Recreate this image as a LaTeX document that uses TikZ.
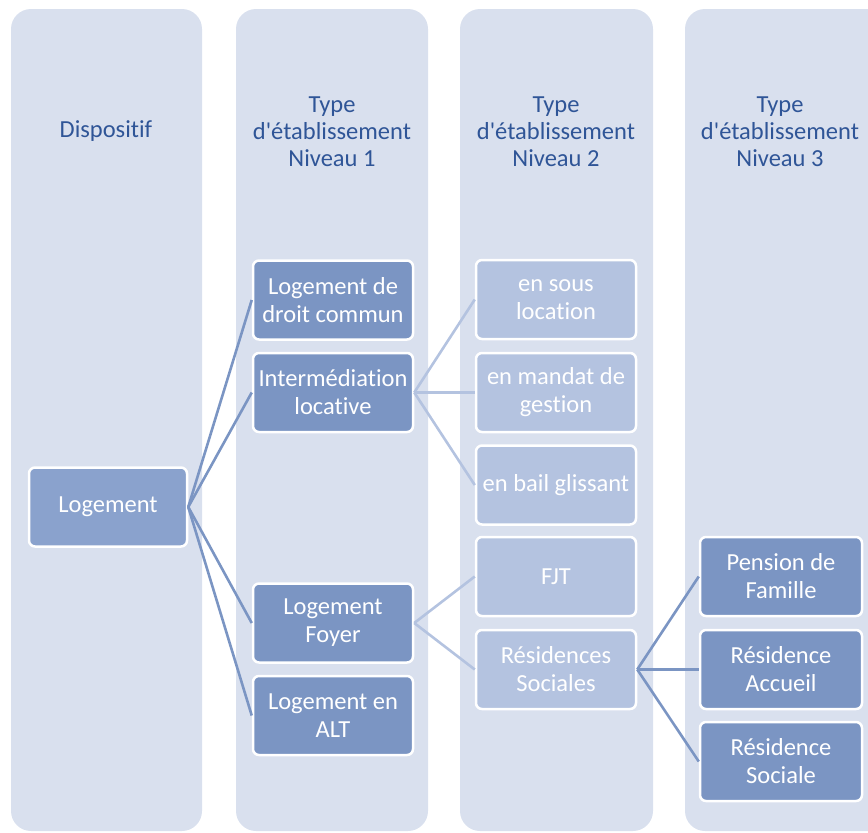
\documentclass[tikz,border=0pt]{standalone}
\usepackage{fontspec}
\setmainfont{Carlito}[Ligatures=NoCommon]
\definecolor{colbg}{HTML}{D9E0EE}
\definecolor{darkbox}{HTML}{7B95C3}
\definecolor{logbox}{HTML}{8AA2CD}
\definecolor{lightbox}{HTML}{B4C3E0}
\definecolor{headtxt}{HTML}{2F5597}
\tikzset{
  colrect/.style={fill=colbg, draw=none, rounded corners=20pt},
  head/.style={text=headtxt, align=center, font=\fontsize{24.5}{27}\selectfont},
  box/.style={draw=white, line width=2.5pt, rounded corners=6pt, text=white, align=center,
    minimum width=160pt, minimum height=79pt, inner sep=0pt, font=\fontsize{24.5}{28}\selectfont},
  darknode/.style={box, fill=darkbox},
  lognode/.style={box, fill=logbox, minimum width=158pt},
  lightnode/.style={box, fill=lightbox},
  darkline/.style={draw=darkbox, line width=2.6pt},
  lightline/.style={draw=lightbox, line width=2.6pt},
}
\begin{document}
\begin{tikzpicture}[x=1pt,y=-1pt]
\useasboundingbox (0,0) rectangle (868,833);
\begin{scope}
\clip (0,0) rectangle (868,833);
\fill[colrect] (11,9) rectangle (202,831);
\fill[colrect] (236,9) rectangle (428,831);
\fill[colrect] (460,9) rectangle (653,831);
\fill[colrect] (685,9) rectangle (890,831);
\end{scope}
\node[head] (h0) at (106,131) {Dispositif};
\node[head] (h1) at (332,132) {Type\\d\textquotesingle établissement\\Niveau 1};
\node[head] (h2) at (556,132) {Type\\d\textquotesingle établissement\\Niveau 2};
\node[head] (h3) at (780,132) {Type\\d\textquotesingle établissement\\Niveau 3};

\node[lognode] (log) at (108,507) {Logement};

\node[darknode] (dc) at (333,300) {Logement de\\droit commun};
\node[darknode] (im) at (333,392.5) {Intermédiation\\locative};
\node[darknode] (lf) at (333,623) {Logement\\Foyer};
\node[darknode] (alt) at (333,715.5) {Logement en\\ALT};

\node[lightnode] (sl) at (556,299.5) {en sous\\location};
\node[lightnode] (mg) at (556,392.5) {en mandat de\\gestion};
\node[lightnode] (bg) at (556,485) {en bail glissant};
\node[lightnode] (fjt) at (556,576.5) {FJT};
\node[lightnode] (rs) at (556,669.5) {Résidences\\Sociales};

\node[darknode, minimum width=162pt] (pf) at (781,576.5) {Pension de\\Famille};
\node[darknode, minimum width=162pt] (ra) at (781,669.5) {Résidence\\Accueil};
\node[darknode, minimum width=162pt] (rso) at (781,761.5) {Résidence\\Sociale};

\draw[darkline] (log.east) -- (dc.west);
\draw[darkline] (log.east) -- (im.west);
\draw[darkline] (log.east) -- (lf.west);
\draw[darkline] (log.east) -- (alt.west);
\draw[lightline] (im.east) -- (sl.west);
\draw[lightline] (im.east) -- (mg.west);
\draw[lightline] (im.east) -- (bg.west);
\draw[lightline] (lf.east) -- (fjt.west);
\draw[lightline] (lf.east) -- (rs.west);
\draw[darkline] (rs.east) -- (pf.west);
\draw[darkline] (rs.east) -- (ra.west);
\draw[darkline] (rs.east) -- (rso.west);
\end{tikzpicture}
\end{document}
